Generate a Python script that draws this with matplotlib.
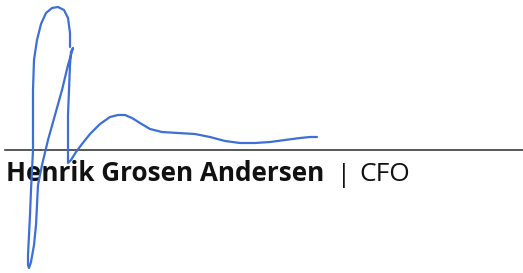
import matplotlib.pyplot as plt

# signature stroke, traced in image pixels (y grows downward)
sig_x = [70, 70, 68, 64, 58, 52, 46, 41, 37, 34, 33, 33, 33, 32, 31, 30, 29, 28, 28, 29, 31, 34, 36, 37,
         38, 42, 48, 55, 62, 68, 73, 71, 70, 69, 68, 68, 68, 68, 71, 76, 82, 90, 100, 110, 118, 125, 132,
         140, 150, 162, 178, 195, 210, 225, 240, 255, 270, 285, 300, 310, 317]
sig_y = [47, 33, 18, 10, 7, 8, 13, 24, 40, 60, 90, 120, 150, 170, 190, 215, 235, 255, 265, 268, 262, 245,
         225, 205, 185, 165, 140, 115, 90, 65, 48, 52, 65, 90, 115, 140, 158, 163, 160, 152, 144, 134, 124,
         117, 115, 115, 118, 123, 129, 132, 133, 134, 137, 141, 143, 143, 142, 140, 138, 137, 137]

name = "Henrik Grosen Andersen"
sep = "|"
title = "CFO"
line_y = 150

fig = plt.figure(figsize=(5.23, 2.73), dpi=100)
ax = fig.add_axes([0, 0, 1, 1])
ax.set_xlim(0, 523)
ax.set_ylim(273, 0)
ax.axis("off")

ax.plot([5, 523], [line_y, line_y], color="#2a2a2a", lw=1.1, zorder=1)

ax.text(6, 181, name, fontfamily="Open Sans", fontweight="bold", fontsize=18.8,
        color="#111111", va="baseline", ha="left", zorder=2)
ax.text(344, 182, sep, fontfamily="Open Sans", fontsize=18,
        color="#111111", va="baseline", ha="center", zorder=2)
ax.text(359, 181, title, fontfamily="Open Sans", fontsize=19,
        color="#111111", va="baseline", ha="left", zorder=2)

ax.plot(sig_x, sig_y, color="#3d6fd6", lw=1.6, solid_joinstyle="round",
        solid_capstyle="round", zorder=3)

fig.savefig("out.png", dpi=100)
